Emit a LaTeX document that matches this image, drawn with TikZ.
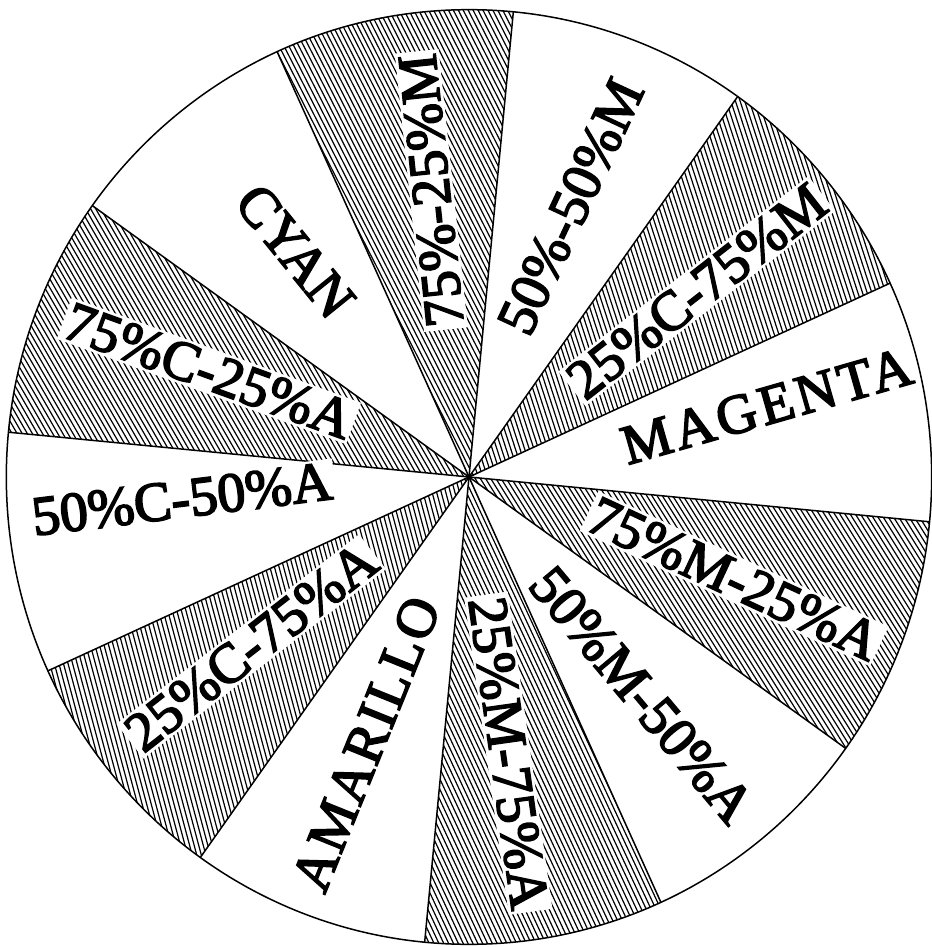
\documentclass[tikz,border=0pt]{standalone}
\usepackage{fontspec}
\setmainfont{Liberation Serif}
\newfontfamily\lblfont[FakeBold=3]{Liberation Serif}
\newfontfamily\lblfontM[FakeBold=3,LetterSpace=7]{Liberation Serif}
\newfontfamily\lblfontA[FakeBold=3,LetterSpace=4]{Liberation Serif}
\newcommand\hatchslice[3]{%
  \begin{scope}
    \clip (0,0) -- (#1:465) arc[start angle=#1, end angle=#2, radius=465] -- cycle;
    \begin{scope}[rotate=#3]
      \foreach \k in {-110,...,110}
        \draw[hatchline] (\k*4.4pt,-480pt) -- (\k*4.4pt,480pt);
    \end{scope}
  \end{scope}}
\begin{document}
\begin{tikzpicture}[x=0.995pt,y=1.005pt,
  hatchline/.style={line width=1.2pt,black},
  border/.style={line width=1.5pt,black},
  lbl/.style={fill=white,inner sep=3pt,font=\fontsize{56}{66}\selectfont\lblfont},
  lblM/.style={lbl,font=\fontsize{56}{66}\selectfont\lblfontM},
  lblA/.style={lbl,font=\fontsize{56}{66}\selectfont\lblfontA}]
\fill[white] (-469pt,-470pt) rectangle (462pt,477pt);
\useasboundingbox (-469pt,-470pt) rectangle (462pt,477pt);
\coordinate (O) at (0,0);
% hatched slices
\hatchslice{84.5}{114.5}{27}
\hatchslice{24.5}{54.5}{18}
\hatchslice{-35.5}{-5.5}{32}
\hatchslice{-95.5}{-65.5}{25}
\hatchslice{-155.5}{-125.5}{15}
\hatchslice{144.5}{174.5}{30}
% boundaries
\foreach \a [count=\i] in {84.5,54.5,24.5,-5.5,-35.5,-65.5,-95.5,-125.5,-155.5,174.5,144.5,114.5}
  \coordinate (b\i) at (\a:465);
\foreach \i in {1,...,12} \draw[border] (O) -- (b\i);
\draw[border] (O) ellipse[x radius=465, y radius=465];
% labels
\node[lbl,rotate=-51] (l1) at (127.6:285pt) {CYAN};
\node[lbl,rotate=96] (l2) at (97.5:289pt) {75\%-25\%M};
\node[lbl,rotate=65] (l3) at (69.4:289pt) {50\%-50\%M};
\node[lbl,rotate=38] (l4) at (39.2:294pt) {25\%C-75\%M};
\node[lblM,rotate=16] (l5) at (13.4:306pt) {MAGENTA};
\node[lbl,rotate=-25] (l6) at (-21:284pt) {75\%M-25\%A};
\node[lbl,rotate=-50] (l7) at (-51.6:278pt) {50\%M-50\%A};
\node[lbl,rotate=-82] (l8) at (-81.9:279pt) {25\%M-75\%A};
\node[lblA,rotate=68] (l9) at (248.9:286pt) {AMARILLO};
\node[lbl,rotate=38] (l10) at (217.9:276pt) {25\%C-75\%A};
\node[lbl,rotate=7] (l11) at (184.4:288pt) {50\%C-50\%A};
\node[lbl,rotate=-20] (l12) at (157.8:281pt) {75\%C-25\%A};
\end{tikzpicture}
\end{document}
